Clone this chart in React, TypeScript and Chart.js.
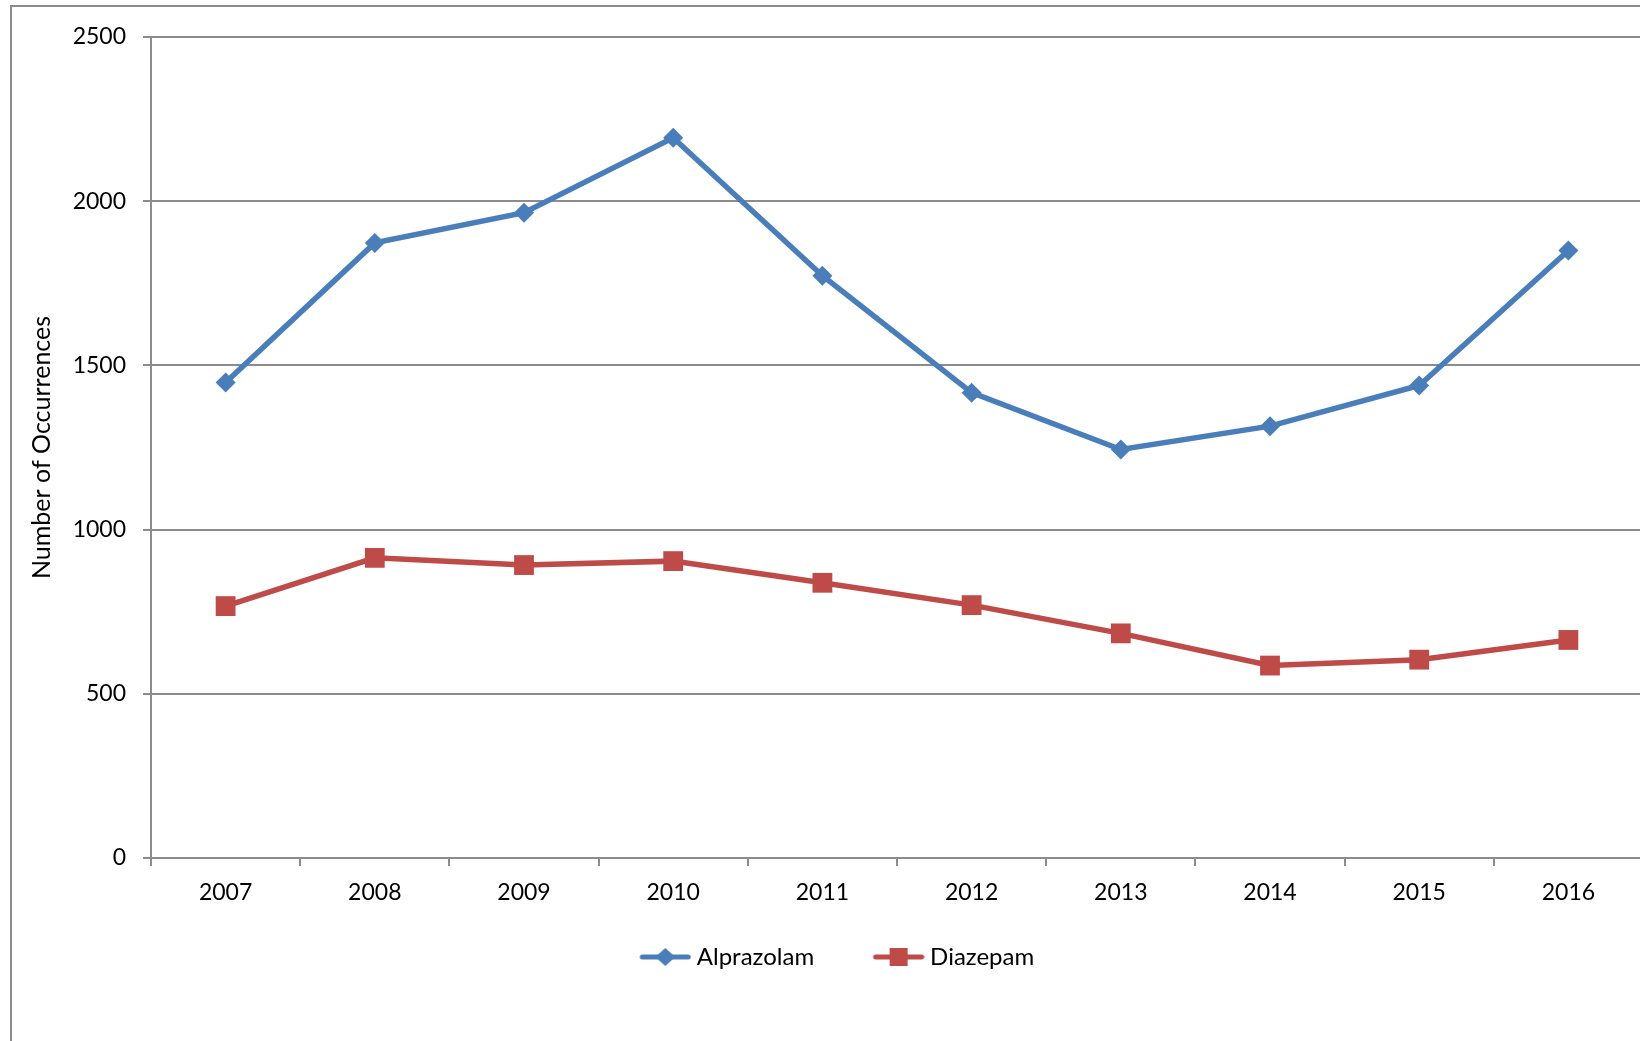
import React, { useEffect, useRef } from "react";
import { Chart, registerables } from "chart.js";

Chart.register(...registerables);

const years = ["2007", "2008", "2009", "2010", "2011", "2012", "2013", "2014", "2015", "2016"];
const alprazolam = [1448, 1873, 1965, 2193, 1773, 1417, 1244, 1315, 1439, 1850];
const diazepam = [767, 914, 892, 904, 838, 770, 684, 586, 604, 664];
const yTicks = [0, 500, 1000, 1500, 2000, 2500];
const seriesNames = ["Alprazolam", "Diazepam"];
const yTitle = "Number of Occurrences";

const BLUE = "#4A7EBB";
const RED = "#BE4B48";
const GRID = "#8C8C8C";
const FONT = "Lato";

// legend symbol: transparent lead-in, then a line with the marker in its middle
function legendSymbol(color: string, kind: "diamond" | "square") {
  const c = document.createElement("canvas");
  c.width = 80;
  c.height = 22;
  const ctx = c.getContext("2d")!;
  ctx.strokeStyle = color;
  ctx.lineWidth = 5;
  ctx.lineCap = "round";
  ctx.beginPath();
  ctx.moveTo(31, 11);
  ctx.lineTo(77, 11);
  ctx.stroke();
  ctx.fillStyle = color;
  const cx = 54;
  if (kind === "diamond") {
    ctx.beginPath();
    ctx.moveTo(cx, 2);
    ctx.lineTo(cx + 10, 11);
    ctx.lineTo(cx, 20);
    ctx.lineTo(cx - 10, 11);
    ctx.closePath();
    ctx.fill();
  } else {
    ctx.fillRect(cx - 9, 2, 18, 18);
  }
  return c;
}

export default function App() {
  const ref = useRef<HTMLCanvasElement | null>(null);

  useEffect(() => {
    if (!ref.current) return;
    const symbols = [legendSymbol(BLUE, "diamond"), legendSymbol(RED, "square")];
    const chart = new Chart(ref.current, {
      type: "line",
      data: {
        labels: years,
        datasets: [
          {
            label: seriesNames[0],
            data: alprazolam,
            borderColor: BLUE,
            backgroundColor: BLUE,
            borderWidth: 5.5,
            tension: 0,
            pointStyle: "rectRot",
            pointRadius: 10,
            pointBorderWidth: 0,
            pointBackgroundColor: BLUE,
          },
          {
            label: seriesNames[1],
            data: diazepam,
            borderColor: RED,
            backgroundColor: RED,
            borderWidth: 5.5,
            tension: 0,
            pointStyle: "rect",
            pointRadius: 14,
            pointBorderWidth: 0,
            pointBackgroundColor: RED,
          },
        ],
      },
      options: {
        responsive: false,
        animation: false,
        devicePixelRatio: 1,
        layout: { padding: { left: 9, right: 37, top: 37, bottom: 62 } },
        plugins: {
          tooltip: { enabled: false },
          legend: {
            position: "bottom",
            labels: {
              usePointStyle: true,
              pointStyleWidth: 67,
              padding: 37,
              color: "#000",
              font: { family: FONT, size: 24 },
              generateLabels: (ch: any) => {
                const items = (Chart.defaults as any).plugins.legend.labels.generateLabels(ch);
                return items.map((it: any, i: number) => ({ ...it, pointStyle: symbols[i] }));
              },
            },
          },
        },
        scales: {
          x: {
            type: "category",
            offset: true,
            grid: {
              offset: true,
              drawOnChartArea: false,
              drawTicks: true,
              tickLength: 8,
              color: GRID,
              lineWidth: 2,
            },
            border: { color: GRID, width: 2 },
            ticks: {
              color: "#000",
              font: { family: FONT, size: 23 },
              padding: 13,
              maxRotation: 0,
              autoSkip: false,
            },
            afterFit: (s: any) => {
              s.height = 50;
            },
          },
          y: {
            min: 0,
            max: 2500,
            afterBuildTicks: (s: any) => {
              s.ticks = yTicks.map((v) => ({ value: v }));
            },
            ticks: {
              color: "#000",
              font: { family: FONT, size: 23 },
              padding: 17,
              callback: (v: any) => String(v),
            },
            grid: { color: GRID, lineWidth: 2, tickLength: 8 },
            border: { color: GRID, width: 2 },
            title: {
              display: true,
              text: yTitle,
              color: "#000",
              font: { family: FONT, size: 25, lineHeight: 1.2 },
              padding: { top: 18, bottom: 0 },
            },
            afterFit: (s: any) => {
              s.width = 142;
            },
          },
        },
      },
    } as any);
    return () => chart.destroy();
  }, []);

  return (
    <div
      style={{
        position: "absolute",
        left: 0,
        top: 0,
        width: 1640,
        height: 1041,
        overflow: "hidden",
        background: "#fff",
      }}
    >
      <div
        style={{
          position: "absolute",
          left: 10,
          top: 5,
          width: 3000,
          height: 3000,
          borderLeft: `2px solid ${GRID}`,
          borderTop: `2px solid ${GRID}`,
        }}
      />
      <canvas
        ref={ref}
        width={1680}
        height={1041}
        style={{ position: "absolute", left: 0, top: 0, width: 1680, height: 1041 }}
      />
    </div>
  );
}
